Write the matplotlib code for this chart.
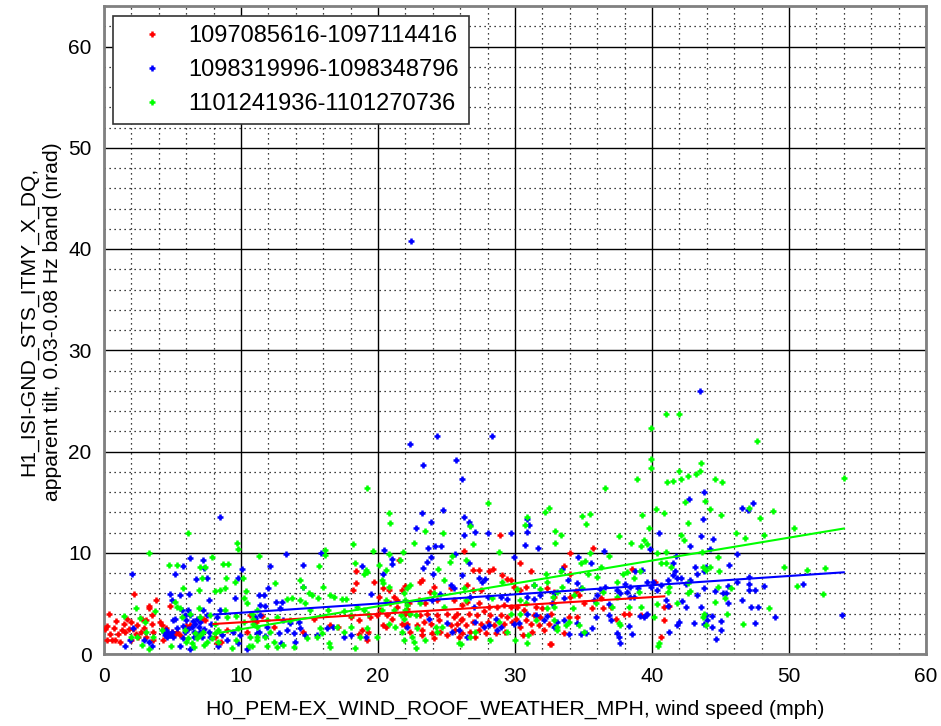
import matplotlib
matplotlib.use('Agg')
import matplotlib.pyplot as plt
from matplotlib.ticker import MultipleLocator

plt.rcParams['font.family'] = ['Liberation Sans', 'DejaVu Sans']

series_labels = ['1097085616-1097114416', '1098319996-1098348796', '1101241936-1101270736']
series_colors = ['#ff0000', '#0000ff', '#00ff00']

red_pts = [
    (0.4,4.0),(0.1,2.5),(0.25,2.8),(0.45,2.0),(0.55,1.4),(0.2,1.4),(0.8,1.4),(1.2,1.2),(1.05,2.0),(1.3,2.4),
    (1.45,3.0),(1.65,3.5),(1.8,2.5),(1.95,3.2),(2.15,2.5),(2.3,2.0),(2.4,2.9),(2.5,1.7),(2.7,2.2),(2.75,3.5),
    (3.1,3.4),(3.25,4.7),(3.5,3.85),(3.5,3.0),(3.6,2.2),(3.8,5.3),(4.1,3.2),(4.2,2.9),(4.3,1.4),(3.6,1.4),
    (2.2,5.9),(3.1,1.65),(3.3,4.5),(4.85,4.7),(4.95,2.2),(5.2,2.0),(5.35,2.2),(5.55,1.9),(6.0,2.8),(6.3,2.9),
    (7.25,3.5),(7.4,3.35),(8.1,1.7),(8.25,1.05),(8.55,1.2),(8.95,2.4),(11.1,3.2),(10.65,3.85),(10.45,2.2),
    (0.9,3.3),(1.5,2.2),(2.0,1.4),(2.9,2.6),(4.5,2.6),(0.7,2.6),
    (18.4,8.2),(18.4,7.0),(18.2,6.3),(19.7,7.15),(20.4,6.55),(21.5,9.3),(22.0,6.75),(20.8,6.3),(21.15,5.65),
    (20.05,5.65),(11.5,3.75),(12.4,2.7),(15.3,3.5),(14.55,2.2),(16.5,2.9),(17.1,2.7),(18.0,3.7),(18.6,3.35),
    (18.8,2.4),(19.3,2.2),(19.45,3.7),(19.95,3.85),(20.15,4.35),(20.35,2.9),(20.55,2.7),(20.65,3.85),(21.05,3.5),
    (21.4,4.65),(21.75,3.0),(22.0,2.9),(22.25,4.0),(20.9,5.0),(21.4,5.3),(22.1,4.4),(19.2,1.4),(18.6,2.0),
    (28.9,11.8),(26.3,10.2),(30.4,8.95),(26.9,8.3),(27.35,8.3),(28.4,8.4),(28.1,8.2),(29.05,7.8),(29.45,7.45),
    (29.7,7.3),(31.15,8.15),(23.2,7.3),(23.1,7.15),(23.8,6.15),(24.1,6.65),(26.5,6.8),(26.9,6.3),(27.5,6.3),
    (29.9,6.65),(30.4,6.3),(30.8,6.6),(32.35,6.5),(32.85,6.15),(21.75,6.3),(22.25,5.0),(23.0,5.3),(23.45,5.0),
    (24.3,5.3),(25.55,5.3),(26.15,4.85),(26.5,5.15),(27.35,5.0),(28.1,4.65),(28.7,4.65),(29.2,4.85),(29.7,4.65),
    (30.15,4.65),(30.65,4.35),(31.5,4.65),(32.0,4.5),(32.75,5.0),(22.0,4.0),(23.1,3.85),(23.6,4.0),(24.3,3.85),
    (25.05,4.0),(25.55,3.7),(25.8,4.0),(26.15,3.5),(26.65,4.0),(27.25,3.85),(27.75,4.2),(28.2,3.85),(28.95,3.85),
    (29.45,3.7),(30.05,3.5),(30.8,3.35),(31.4,3.85),(31.85,3.7),(32.6,4.0),(22.15,3.0),(22.85,2.9),(23.35,3.2),
    (23.85,3.0),(24.45,3.35),(25.3,2.9),(25.8,3.0),(26.05,3.35),(26.4,2.9),(26.9,3.2),(27.5,3.0),(28.0,3.2),
    (28.45,2.9),(29.2,3.0),(29.8,3.2),(30.4,2.7),(31.15,3.0),(31.75,2.9),(32.5,3.0),(22.35,2.2),(23.2,2.35),
    (23.95,2.05),(24.55,2.2),(25.05,1.9),(25.65,2.35),(26.15,2.05),(26.75,2.2),(27.35,2.35),(27.85,2.05),
    (28.6,2.05),(29.3,2.2),(30.55,1.9),(31.25,2.2),(32.1,2.35),(32.55,1.0),(23.2,1.9),(24.1,1.55),(25.9,1.7),
    (27.1,1.7),(25.3,6.5),
    (35.7,10.45),(34.0,9.95),(33.55,8.7),(34.05,7.9),(34.45,6.25),(32.85,5.65),(34.05,5.65),(34.65,5.8),
    (35.05,5.0),(35.65,4.5),(36.25,5.5),(36.4,4.5),(37.0,4.65),(38.55,8.35),(40.2,7.15),(40.9,4.65),(41.25,4.75),
    (40.9,3.35),(40.65,1.65),(37.95,4.0),(38.35,4.0),(39.2,3.85),(33.95,3.7),(34.55,3.7),(33.55,2.1),(37.35,3.5),
    (32.6,1.0),
]

blue_pts = [
    (22.4,40.8),(43.5,26.0),(22.3,20.7),(24.3,21.5),(28.3,21.5),(23.3,18.65),(25.7,19.2),(26.1,17.3),
    (43.8,16.0),(42.7,15.3),(46.6,14.4),(47.0,14.2),(47.4,14.9),
    (8.5,13.55),(2.05,7.95),(6.25,9.45),(5.75,8.7),(5.2,7.95),(7.25,9.3),(7.3,8.45),(6.7,7.45),(7.5,7.5),
    (10.05,8.35),(9.75,7.55),(4.8,5.95),(6.2,5.9),(7.7,5.35),(9.55,5.55),(1.55,0.8),(1.9,1.4),(2.15,2.55),
    (2.9,1.4),(3.25,1.2),(3.5,0.75),(4.35,2.2),(4.45,1.9),(4.6,1.7),(4.7,2.05),(4.85,1.9),(4.95,2.2),(5.05,3.35),
    (5.2,3.5),(5.05,1.7),(5.55,0.75),(5.75,1.55),(5.9,2.2),(6.0,3.35),(6.15,4.35),(6.3,3.85),(6.4,2.7),(6.55,2.2),
    (6.6,1.7),(6.65,3.0),(6.8,3.5),(6.9,2.7),(7.0,2.2),(7.15,1.7),(7.0,3.2),(7.25,4.35),(7.5,3.85),(7.65,2.2),
    (7.75,1.7),(8.25,3.7),(8.5,4.35),(8.6,1.9),(8.95,1.4),(9.45,2.2),(9.95,1.9),(10.45,0.45),(11.05,3.7),
    (11.3,2.2),(5.7,4.35),(5.9,3.85),(6.3,0.45),(4.95,5.35),(5.55,5.8),(9.8,1.05),(8.35,0.75),
    (4.5,2.4),(5.3,2.6),(6.1,2.5),(6.8,1.9),(7.3,2.5),(5.8,2.8),(6.5,3.3),(7.8,3.0),
    (13.25,9.85),(15.85,10.0),(12.1,8.7),(14.5,8.75),(12.0,6.5),(11.35,5.8),(11.65,5.8),(14.55,6.6),(18.85,8.7),
    (20.45,10.25),(21.05,9.4),(21.05,8.85),(20.4,7.95),(19.5,5.9),(12.55,5.15),(13.0,5.15),(11.4,4.85),
    (11.75,4.75),(12.85,4.5),(11.4,3.85),(11.05,3.5),(13.1,3.35),(13.6,3.05),(14.2,3.2),(11.9,2.7),(13.35,2.35),
    (14.3,2.55),(11.15,2.05),(11.75,1.8),(12.75,2.05),(13.85,2.05),(14.7,1.9),(12.9,1.05),(13.95,1.2),(15.55,1.9),
    (16.25,2.55),(16.75,2.7),(17.55,1.7),(18.0,1.9),(19.1,1.7),
    (23.2,13.9),(24.75,14.2),(23.85,13.0),(22.8,12.4),(26.3,13.55),(26.65,13.0),(26.7,12.75),(27.1,12.05),
    (26.25,11.75),(28.0,12.0),(29.7,12.0),(23.65,10.45),(24.15,10.65),(24.6,10.65),(30.9,13.35),(31.0,12.75),
    (30.85,12.05),(30.75,10.75),(31.7,10.45),(25.6,9.85),(23.85,9.55),(23.55,9.05),(23.25,8.5),(29.9,9.6),
    (26.65,8.95),(24.0,7.9),(26.15,7.8),(27.35,7.55),(27.6,7.15),(27.8,7.4),(25.3,6.8),(25.55,6.5),(24.55,5.9),
    (31.4,6.8),(23.95,5.35),(26.75,5.65),(28.0,5.65),(28.95,5.65),(29.45,5.4),(30.9,5.65),(31.4,5.4),(31.85,5.8),
    (32.85,6.0),(27.0,4.65),(30.9,4.0),(31.5,3.85),(32.35,3.75),(22.15,2.7),(23.7,3.5),(25.05,3.1),(25.4,2.2),
    (25.9,2.35),(26.5,1.7),(27.1,3.2),(27.75,2.7),(28.1,2.85),(28.6,3.5),(28.7,2.35),(28.95,2.7),(29.9,2.95),
    (30.3,3.05),(32.1,3.35),(32.85,2.7),
    (34.6,9.55),(35.55,9.0),(36.5,10.15),(33.45,8.35),(33.85,7.3),(34.5,7.0),(34.85,6.5),(36.2,6.4),(35.95,5.8),
    (36.6,6.6),(37.45,6.3),(38.0,6.9),(38.4,6.65),(37.7,6.0),(38.2,6.15),(38.75,8.15),(39.25,8.3),(39.0,6.5),
    (39.65,7.15),(40.05,7.15),(39.9,6.65),(40.4,6.3),(40.65,6.8),(41.15,7.3),(41.5,7.8),(41.65,8.15),(41.85,7.55),
    (42.1,7.55),(42.45,6.9),(42.8,7.3),(43.3,7.95),(43.15,8.6),(43.95,8.55),(42.8,10.65),(43.6,11.65),(43.7,13.3),
    (40.5,12.0),(39.85,10.35),(41.5,9.0),(41.75,9.65),(43.3,5.8),(43.8,6.5),(43.95,3.85),(38.7,5.65),(32.7,5.0),
    (33.55,5.5),(35.75,5.35),(36.85,4.95),(38.4,5.6),(39.65,4.0),(39.4,3.7),(41.0,5.35),(41.15,4.75),(42.2,5.25),
    (42.45,4.65),(43.55,4.65),(33.1,3.2),(33.55,3.35),(34.55,3.05),(35.65,2.55),(35.9,3.7),(36.85,3.85),(37.0,3.35),
    (38.3,2.75),(39.1,3.75),(39.55,3.85),(41.25,2.2),(41.8,2.85),(42.0,3.2),(43.05,3.05),(33.95,1.95),(34.8,2.0),
    (35.15,2.05),(37.45,2.05),(37.6,1.7),(37.7,1.1),(38.55,1.95),(32.95,2.7),
    (44.45,11.35),(44.25,10.35),(46.2,9.85),(45.65,8.75),(43.8,8.15),(47.05,7.65),(46.2,7.1),(48.2,6.75),
    (47.1,6.9),(47.1,6.3),(47.55,6.3),(51.0,6.9),(44.6,6.2),(45.15,6.05),(45.4,6.05),(45.55,6.75),
    (45.55,5.0),(46.55,5.35),(47.2,4.6),(47.75,4.6),(49.0,3.7),(47.55,3.1),(53.9,3.85),(44.35,3.75),(45.0,3.25),
    (44.0,3.35),(43.8,2.95),(44.4,2.7),(45.0,2.35),(44.7,1.5),
]

green_pts = [
    (41.0,23.7),(42.0,23.7),(39.9,22.3),(47.7,21.0),(39.9,19.3),(39.9,18.4),(43.6,18.9),(43.5,18.05),(42.0,18.05),
    (42.6,17.6),(43.2,17.8),(42.1,17.3),(41.5,17.1),(41.1,17.0),(44.6,17.3),(45.1,17.0),(38.9,17.3),(36.6,16.4),
    (19.2,16.4),(54.0,17.4),(28.0,14.9),(20.8,13.9),(32.2,14.0),(32.5,14.4),(34.9,13.6),(35.5,13.8),(39.3,13.7),
    (40.3,14.3),(40.9,13.9),(42.4,15.0),(43.9,15.1),(44.2,14.3),(45.0,13.7),(47.1,14.4),(47.9,13.4),(48.8,14.1),
    (3.25,10.0),(6.15,12.0),(9.7,11.0),(9.75,10.4),(4.75,8.75),(5.35,8.75),(7.0,8.55),(7.35,8.55),(7.9,9.6),
    (8.65,8.85),(9.05,8.85),(7.15,7.55),(8.9,7.5),(9.55,7.1),(10.15,7.5),(5.75,6.5),(6.9,6.3),(8.1,6.2),(8.5,6.3),
    (8.8,6.5),(10.35,6.25),(10.2,5.55),(10.45,5.05),(2.35,4.5),(2.65,3.6),(3.0,3.2),(3.75,4.25),(5.2,5.15),
    (5.3,4.65),(5.7,3.7),(6.3,4.0),(6.9,4.5),(7.0,3.7),(7.75,3.85),(8.1,3.0),(8.35,2.35),(8.85,4.35),(8.95,3.7),
    (9.6,3.75),(9.8,2.55),(10.2,3.2),(10.8,4.0),(10.9,3.0),(11.15,2.7),(11.15,1.7),(11.3,9.65),(1.45,3.75),
    (3.1,2.2),(3.6,1.7),(4.2,2.35),(4.9,0.8),(6.15,1.55),(6.4,1.05),(6.65,2.05),(6.8,1.55),(7.0,1.9),(7.5,1.2),
    (7.85,1.55),(8.1,2.05),(8.35,1.2),(9.35,0.55),(9.65,1.4),(10.65,1.7),(10.6,0.8),(7.25,2.2),(2.0,1.7),(2.4,1.7),
    (5.55,4.5),(6.0,1.2),(6.6,0.7),(7.3,0.9),(5.9,2.4),(2.8,0.9),(3.3,0.5),
    (20.85,12.9),(18.2,10.9),(16.1,10.25),(16.1,9.75),(19.65,10.2),(20.8,9.85),(21.8,10.05),(21.6,9.3),
    (18.3,8.95),(19.1,8.3),(18.95,7.9),(19.2,8.1),(20.05,8.8),(20.55,8.3),(20.3,7.35),(20.8,6.6),(20.4,7.0),
    (22.1,6.5),(22.3,6.8),(15.7,8.7),(14.3,7.35),(16.0,6.65),(14.55,6.6),(14.95,6.0),(15.2,5.8),(12.5,7.0),
    (13.7,5.5),(13.35,5.4),(14.3,5.35),(14.7,5.0),(15.65,5.5),(16.5,5.8),(16.8,5.65),(17.4,5.4),(17.7,5.4),
    (15.05,4.35),(16.35,4.3),(17.5,4.2),(18.0,3.85),(18.45,4.65),(18.95,4.35),(19.3,4.0),(20.3,4.35),(20.55,5.35),
    (21.15,4.35),(21.65,3.85),(21.95,4.35),(22.0,5.3),(10.8,0.8),(11.15,1.4),(11.9,0.8),(12.4,1.2),(12.6,0.7),
    (13.1,0.9),(13.85,0.7),(14.8,1.55),(15.55,1.7),(15.9,2.05),(16.4,1.05),(16.5,0.7),(17.0,2.7),(17.5,2.2),
    (18.0,2.7),(18.35,0.55),(18.7,1.7),(19.2,2.55),(19.95,1.7),(20.8,3.0),(21.25,2.7),(21.75,2.2),(21.9,1.4),
    (11.9,3.35),(12.6,3.7),(11.15,4.35),(10.9,3.5),(15.8,2.55),(13.6,3.35),(12.15,2.2),(11.75,1.7),
    (23.45,12.15),(24.75,12.0),(26.75,12.65),(26.9,10.9),(22.65,11.0),(30.75,12.75),(30.85,13.5),(32.9,12.15),
    (32.9,11.0),(25.4,9.65),(26.4,9.3),(25.25,9.1),(24.8,7.3),(28.85,10.05),(29.05,7.15),(32.25,7.95),(32.35,7.15),
    (21.9,6.0),(24.1,6.0),(24.35,8.35),(26.25,6.5),(31.4,6.8),(31.85,6.4),(30.15,6.4),(22.15,4.85),(22.35,4.0),
    (21.9,3.5),(22.75,3.85),(22.85,2.55),(22.75,0.55),(22.5,1.7),(22.6,1.2),(23.45,1.4),(24.3,2.2),(24.7,2.7),
    (24.2,2.7),(25.9,1.05),(26.05,1.0),(26.75,1.7),(27.1,2.2),(28.2,1.4),(28.85,3.2),(29.45,2.2),(29.7,4.0),
    (30.0,1.4),(30.4,4.0),(30.8,5.0),(30.95,1.9),(30.9,1.05),(31.5,3.35),(32.35,4.5),(32.75,5.65),(33.1,2.7),
    (23.1,5.0),(24.8,4.65),(26.4,5.35),(30.4,5.35),(28.35,5.5),
    (35.15,12.85),(33.35,11.75),(37.6,11.65),(38.5,11.0),(39.45,11.25),(39.65,10.9),(39.2,10.7),(39.8,12.4),
    (42.6,12.95),(42.15,11.75),(42.35,11.25),(35.5,10.0),(36.85,9.65),(35.1,9.2),(34.85,9.0),(33.35,8.15),
    (35.3,7.9),(36.25,8.6),(37.9,7.9),(38.2,8.05),(38.65,7.55),(39.15,8.15),(37.45,7.15),(40.35,9.95),(41.0,10.1),
    (40.65,8.95),(41.0,8.95),(41.4,8.6),(42.6,7.0),(42.8,6.25),(41.25,6.6),(41.15,6.15),(43.95,8.25),(36.0,7.65),
    (34.9,6.5),(34.3,5.8),(33.45,6.65),(33.1,6.15),(36.4,6.15),(37.45,5.65),(39.05,6.15),(32.85,4.65),(34.2,4.5),
    (35.9,5.0),(37.1,4.65),(38.35,4.6),(39.2,4.65),(40.4,4.95),(41.85,5.05),(42.6,6.0),(43.7,3.7),(32.85,3.35),
    (33.7,2.85),(33.95,3.2),(34.65,2.85),(37.6,3.1),(37.7,2.85),(40.15,3.7),(40.5,1.1),(40.45,0.75),(33.1,2.35),
    (35.05,2.2),(43.95,2.85),
    (46.15,12.0),(46.8,11.5),(48.15,11.8),(50.4,12.4),(44.8,9.55),(43.75,8.6),(44.2,8.6),(44.9,8.15),(49.65,8.55),
    (51.3,8.3),(52.65,8.5),(50.55,6.75),(52.45,5.9),(45.8,6.5),(44.85,6.65),(44.6,5.15),(45.3,5.5),(43.8,3.95),
    (45.5,3.95),(48.55,4.5),(46.65,3.0),(43.65,10.1),
]

# linear fits: (slope, intercept, x_start, x_end)
red_fit = (0.083, 2.30, 8.0, 40.9)
blue_fit = (0.0907, 3.17, 8.0, 54.0)
green_fit = (0.226, 0.19, 8.0, 54.0)

x_ticks = [0, 10, 20, 30, 40, 50, 60]
y_ticks = [0, 10, 20, 30, 40, 50, 60]
x_label = 'H0_PEM-EX_WIND_ROOF_WEATHER_MPH, wind speed (mph)'
y_label = 'H1_ISI-GND_STS_ITMY_X_DQ,\napparent tilt, 0.03-0.08 Hz band (nrad)'

fig = plt.figure(figsize=(9.41, 7.26), dpi=100)
ax = fig.add_axes([104/941, 72/726, 822/941, 648/726])

for pts, color, label in zip([red_pts, blue_pts, green_pts], series_colors, series_labels):
    xs = [p[0] for p in pts]
    ys = [p[1] for p in pts]
    ax.plot(xs, ys, ls='none', marker='+', ms=4.8, mew=1.8, color=color, label=label, zorder=3)

for fit, color in zip([red_fit, blue_fit, green_fit], series_colors):
    m, b, x0, x1 = fit
    ax.plot([x0, x1], [m*x0 + b, m*x1 + b], color=color, lw=1.5, zorder=4)

ax.set_xlim(0, 60)
ax.set_ylim(0, 64)
ax.set_xticks(x_ticks)
ax.set_yticks(y_ticks)
ax.xaxis.set_minor_locator(MultipleLocator(2))
ax.yaxis.set_minor_locator(MultipleLocator(2))
ax.grid(which='major', color='black', lw=1.0, ls='-', zorder=1)
ax.grid(which='minor', color='black', lw=0.9, ls=(0, (1, 3)), zorder=1)
ax.set_axisbelow(True)
ax.tick_params(which='both', length=0, labelsize=15, pad=9)
for s in ax.spines.values():
    s.set_color('#808080')
    s.set_linewidth(2)

ax.set_xlabel(x_label, fontsize=15.3, labelpad=10)
ax.set_ylabel(y_label, fontsize=15.2, linespacing=1.35)
ax.yaxis.set_label_coords(-0.051, 0.513)

leg = ax.legend(loc='upper left', bbox_to_anchor=(0.011, 0.985), borderaxespad=0,
                fontsize=17, frameon=True, fancybox=False, framealpha=1,
                edgecolor='#333333', handlelength=2.5, handletextpad=0.3,
                labelspacing=0.5, borderpad=0.4, markerscale=1.0)
leg.get_frame().set_linewidth(1.2)

fig.savefig('out.png', dpi=100)
